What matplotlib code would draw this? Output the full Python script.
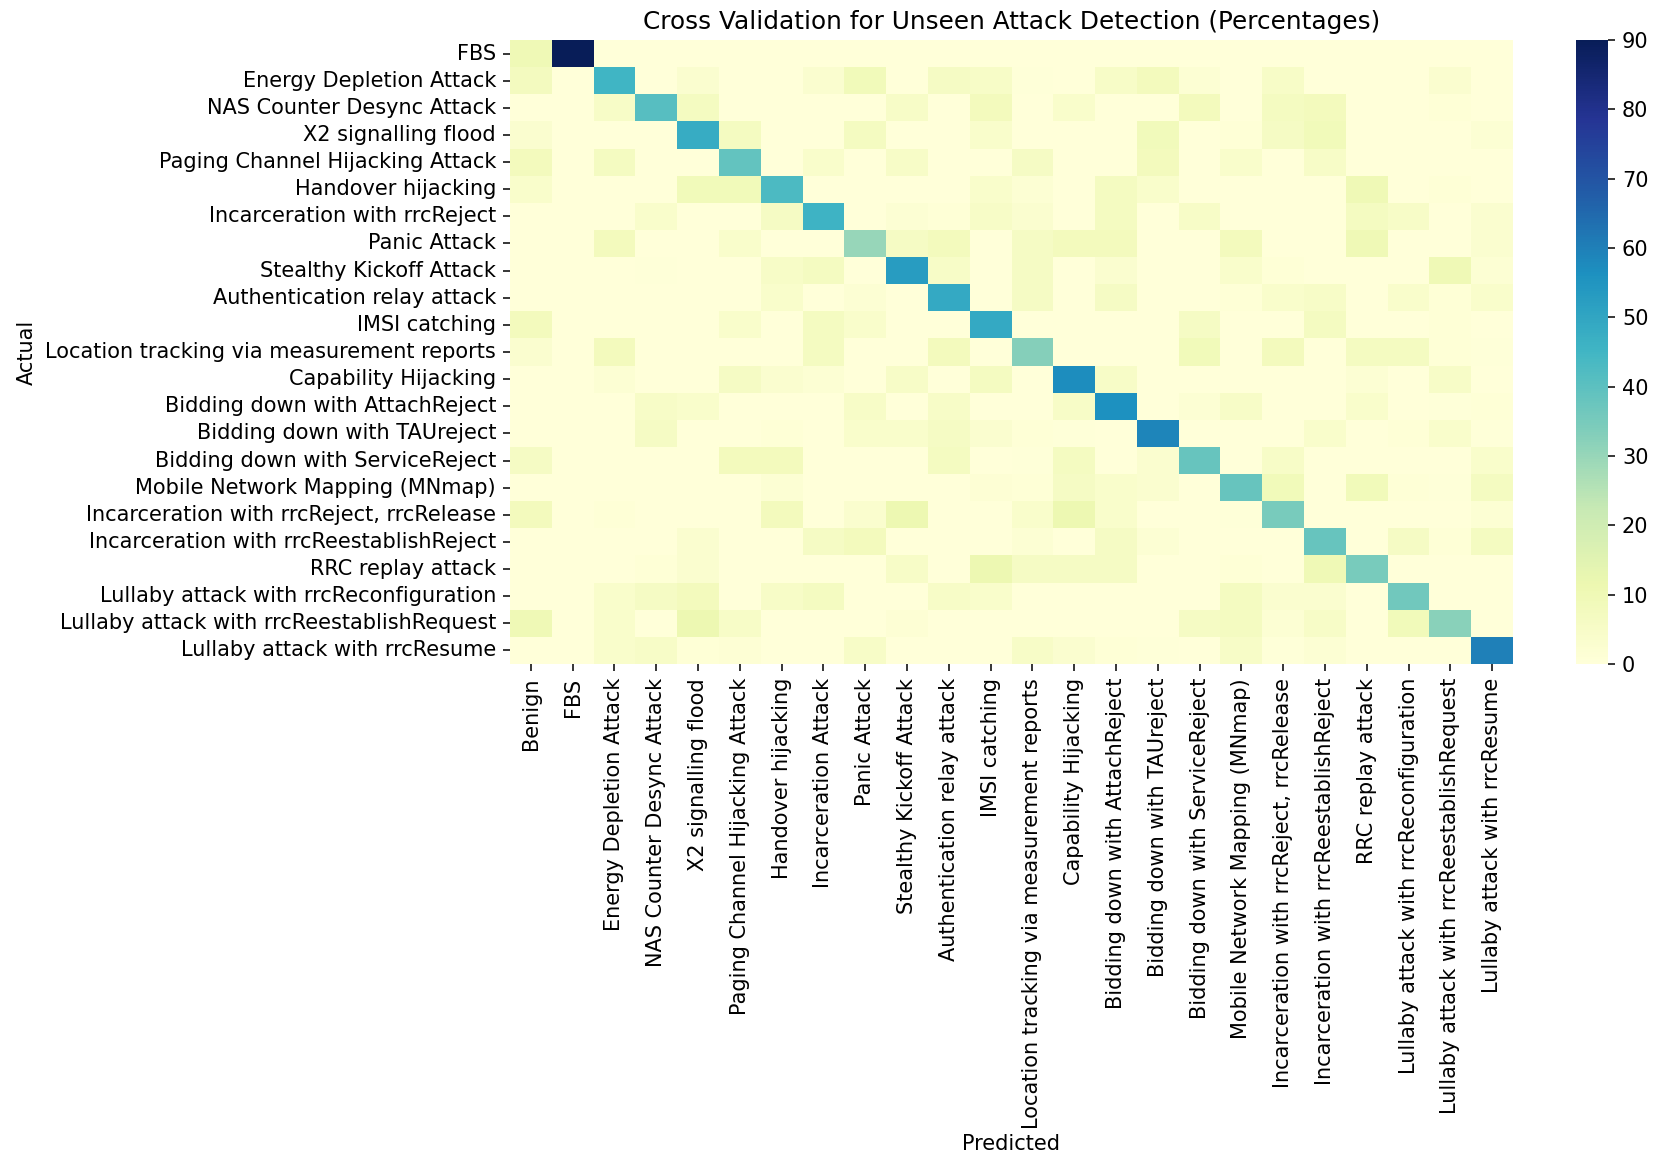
import matplotlib
matplotlib.use('Agg')
import matplotlib.pyplot as plt
import seaborn as sns

# predicted classes (x axis), actual classes are the same without Benign
predicted = ['Benign', 'FBS', 'Energy Depletion Attack', 'NAS Counter Desync Attack',
             'X2 signalling flood', 'Paging Channel Hijacking Attack', 'Handover hijacking',
             'Incarceration Attack', 'Panic Attack', 'Stealthy Kickoff Attack',
             'Authentication relay attack', 'IMSI catching',
             'Location tracking via measurement reports', 'Capability Hijacking',
             'Bidding down with AttachReject', 'Bidding down with TAUreject',
             'Bidding down with ServiceReject', 'Mobile Network Mapping (MNmap)',
             'Incarceration with rrcReject, rrcRelease', 'Incarceration with rrcReestablishReject',
             'RRC replay attack', 'Lullaby attack with rrcReconfiguration',
             'Lullaby attack with rrcReestablishRequest', 'Lullaby attack with rrcResume']

actual = ['FBS', 'Energy Depletion Attack', 'NAS Counter Desync Attack', 'X2 signalling flood',
          'Paging Channel Hijacking Attack', 'Handover hijacking', 'Incarceration with rrcReject',
          'Panic Attack', 'Stealthy Kickoff Attack', 'Authentication relay attack', 'IMSI catching',
          'Location tracking via measurement reports', 'Capability Hijacking',
          'Bidding down with AttachReject', 'Bidding down with TAUreject',
          'Bidding down with ServiceReject', 'Mobile Network Mapping (MNmap)',
          'Incarceration with rrcReject, rrcRelease', 'Incarceration with rrcReestablishReject',
          'RRC replay attack', 'Lullaby attack with rrcReconfiguration',
          'Lullaby attack with rrcReestablishRequest', 'Lullaby attack with rrcResume']

# percentages, one row per actual class
fbs       = [10, 90, 0, 0, 0, 0, 0, 0, 0, 0, 0, 0, 0, 0, 0, 0, 0, 0, 0, 0, 0, 0, 0, 0]
energy    = [7.5, 0, 45, 0, 3, 0, 0, 3, 9, 0, 6, 5, 0.5, 0, 5, 8, 2, 0, 5, 0, 0, 0, 3, 0]
nas       = [0, 0, 5, 41, 7, 0, 0, 0, 0, 5, 0, 8, 0, 4, 0, 0, 8, 0, 7, 8, 0, 0, 1, 0]
x2        = [3, 0, 0, 0, 48, 7, 0, 0, 7, 0, 0, 4, 0, 0, 0, 8.5, 0, 1, 6, 9, 0, 0, 0, 2]
paging    = [8, 0, 7, 0, 0, 39, 0, 4, 0, 5, 0, 0, 6, 0, 0, 8, 0, 4, 0, 5, 0, 0, 0, 0]
handover  = [4, 0, 0, 0, 9, 9, 43, 0, 0, 0, 0, 4, 2, 0, 7, 4, 0, 0, 0, 0, 10, 0, 1, 0]
rrcreject = [0, 0, 0, 4, 0, 0, 6, 46, 0, 2, 1, 5, 3, 0, 7, 0, 5, 0, 0, 0, 7, 5, 0, 3]
panic     = [0, 0, 8, 0, 0, 4, 0, 0, 30, 6, 8, 0, 6, 8, 8, 0, 0, 8, 0, 0, 10, 0, 0, 3]
stealthy  = [0, 0, 0, 0.5, 0, 0, 5, 7, 0, 53, 5, 0, 6, 0, 3, 0, 0, 4, 1, 0, 0, 0, 10, 2]
authrelay = [0, 0, 0, 0, 0, 0, 4, 0, 2, 0, 49, 0, 6, 0, 6, 0, 0, 1, 4, 5, 0, 4, 1, 4]
imsi      = [8, 0, 0, 0, 0, 4, 0, 7, 4, 0, 0, 49, 0, 0, 0, 0, 6, 0, 0, 7, 0, 0, 1, 0]
location  = [3, 0, 8, 0, 0, 0, 0, 7, 0, 0, 8, 0, 33, 0, 0, 0, 9, 0, 8, 0, 7, 7, 1, 0.5]
capab     = [0, 0, 2, 0, 0, 6, 3, 2, 0, 5, 0, 7, 0, 57, 5, 0, 0, 0, 0, 0, 2, 0, 5, 0]
attachrej = [0, 0, 0, 5, 4, 0, 0, 0, 5, 0, 5, 0, 0, 5, 56, 0, 2, 5, 0, 0, 4, 0, 0.5, 1]
taurej    = [0, 0, 0, 6, 0, 0, 1, 0, 4, 4, 6, 3, 1, 0.5, 0, 59, 0, 0, 0, 4, 0, 1, 4, 0.5]
servrej   = [6, 0, 0, 0, 0, 8, 8, 0, 0, 0, 7, 0, 0.5, 7, 0, 3, 38, 0, 5, 0, 0, 0, 0, 4]
mnmap     = [0, 0, 0, 0, 0, 0, 2, 0, 0, 0, 0, 1.5, 1, 6, 4, 3, 0, 38, 9, 0, 9, 1, 0.5, 7]
rrcrel    = [8, 0, 1, 0, 0, 0, 8, 0, 3.5, 11, 0, 0, 4, 11, 4, 0, 0, 0.5, 35, 0, 0, 0, 0, 2]
rrcreest  = [0, 0, 0, 0, 3, 0, 0, 6, 8, 0, 0, 0, 2, 0, 6, 2, 0, 0, 0, 38, 0, 6, 1, 7]
replay    = [0, 0, 0, 1, 3, 0, 0, 0, 0, 5, 0, 11, 6, 6, 6, 0, 0, 1, 0, 10, 35, 0, 0, 0]
reconf    = [0, 0, 4, 6, 8, 0, 5, 7, 0, 0, 5, 4, 0, 0, 0, 0, 0, 7, 3, 3, 0, 36.5, 0, 0]
reestreq  = [10, 0, 4, 0, 11, 5, 0, 0, 0, 1.5, 0, 0, 0, 0, 0, 0, 6, 7, 2, 5, 0, 9, 32, 0]
resume    = [0, 0, 4, 5, 1, 1.5, 0, 0, 5, 0, 0, 0, 5, 3, 1, 0.5, 0, 5, 0.5, 2, 0, 0, 0, 60]

matrix = [fbs, energy, nas, x2, paging, handover, rrcreject, panic, stealthy, authrelay, imsi,
          location, capab, attachrej, taurej, servrej, mnmap, rrcrel, rrcreest, replay, reconf,
          reestreq, resume]

W, H = 1655, 1156
fig = plt.figure(figsize=(W / 100, H / 100), dpi=100)
ax = fig.add_axes([510 / W, 1 - 664 / H, 1003 / W, 624 / H])
cax = fig.add_axes([1576 / W, 1 - 664 / H, 32 / W, 624 / H])

sns.heatmap(matrix, cmap='YlGnBu', vmin=0, vmax=90, ax=ax, cbar_ax=cax,
            xticklabels=predicted, yticklabels=actual)

fs = 15
ax.tick_params(axis='both', labelsize=fs, length=5, width=1.1, pad=5)
ax.set_xticklabels(predicted, rotation=90, fontsize=fs)
ax.set_yticklabels(actual, rotation=0, fontsize=fs)
cax.tick_params(labelsize=fs, length=5, width=1.1, pad=5)
ax.set_title('Cross Validation for Unseen Attack Detection (Percentages)', fontsize=17.85, pad=8)
ax.set_xlabel('Predicted', fontsize=fs, labelpad=4)
ax.set_ylabel('Actual', fontsize=fs, labelpad=6)

fig.savefig('out.png', dpi=100)
